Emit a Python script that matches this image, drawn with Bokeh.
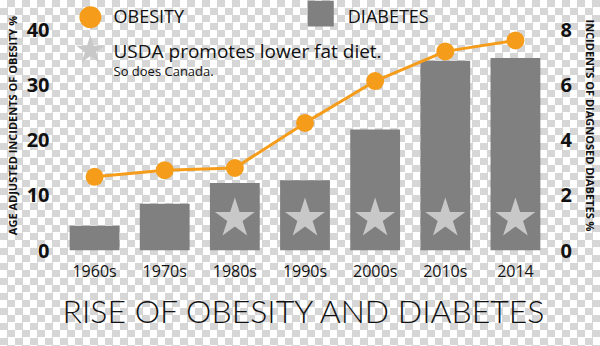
import math
from bokeh.plotting import figure
from bokeh.models import Range1d, LinearAxis, Label, Title, FixedTicker, FactorRange
from bokeh.embed import file_html
from bokeh.resources import INLINE

# ---- data ----
periods = ["1960s", "1970s", "1980s", "1990s", "2000s", "2010s", "2014"]
obesity = [13.4, 14.6, 15.0, 23.2, 30.8, 36.2, 38.2]      # % (left axis)
diabetes = [0.9, 1.7, 2.45, 2.55, 4.4, 6.9, 7.0]          # % (right axis)
usda_low_fat = [False, False, True, True, True, True, True]
obesity_ticks = [0, 10, 20, 30, 40]
diabetes_ticks = [0, 2, 4, 6, 8]
left_title = "AGE ADJUSTED INCIDENTS OF OBESITY %"
right_title = "INCIDENTS OF DIAGNOSED DIABETES %"

ORANGE = "#F59D1B"
BAR = "#808080"
STAR = "#C8C8C8"
FONT = "Open Sans"
INK = "#111111"

p = figure(width=600, height=346, title=None,
           x_range=FactorRange(*periods, range_padding=0),
           y_range=Range1d(0, 45.45),
           output_backend="svg", toolbar_location=None,
           min_border_left=59, min_border_right=49,
           min_border_top=0, min_border_bottom=96)
p.extra_y_ranges = {"diab": Range1d(0, 9.09)}

p.background_fill_alpha = 0
p.border_fill_alpha = 0
p.outline_line_color = None
p.grid.visible = False
p.styles = {
    "background-image": "repeating-conic-gradient(#d6d6d6 0% 25%, #ffffff 0% 50%)",
    "background-size": "15px 15px",
}

# bars (diabetes)
p.vbar(x=periods, top=diabetes, width=0.71, y_range_name="diab",
       fill_color=BAR, line_color=None)

# USDA stars inside bars
star_x = [c for c, f in zip(periods, usda_low_fat) if f]
p.scatter(x=star_x, y=[1.16] * len(star_x), marker="star", size=42,
          fill_color=STAR, line_color=None, y_range_name="diab")

# obesity line
p.line(x=periods, y=obesity, line_color=ORANGE, line_width=3)
p.scatter(x=periods, y=obesity, marker="circle", size=18,
          fill_color=ORANGE, line_color=None)

# ---- legend (manual) ----
p.scatter(x=[0.44], y=[42.4], marker="circle", size=22, fill_color=ORANGE, line_color=None)
p.scatter(x=[3.725], y=[43.1], marker="square", size=26, fill_color=BAR, line_color=None)
p.scatter(x=[0.44], y=[36.4], marker="star", size=30, fill_color=STAR, line_color=None)
for x, y, txt, fs in [(0.77, 42.7, "OBESITY", "18px"),
                      (4.11, 42.7, "DIABETES", "18px"),
                      (0.77, 36.3, "USDA promotes lower fat diet.", "19px"),
                      (0.77, 32.6, "So does Canada.", "13px")]:
    p.add_layout(Label(x=x, y=y, text=txt, text_baseline="middle", text_align="left",
                       text_font=FONT, text_font_size=fs, text_color=INK))

# ---- axes ----
def style_axis(ax, title):
    ax.axis_line_color = None
    ax.major_tick_line_color = None
    ax.minor_tick_line_color = None
    ax.major_tick_out = 0
    ax.major_tick_in = 0
    ax.major_label_text_font = FONT
    ax.major_label_text_color = INK
    if title:
        ax.axis_label = title
        ax.axis_label_text_font = FONT
        ax.axis_label_text_font_style = "bold"
        ax.axis_label_text_font_size = "11px"
        ax.axis_label_text_color = INK

yl = p.yaxis[0]
yl.ticker = FixedTicker(ticks=obesity_ticks)
style_axis(yl, left_title)
yl.major_label_text_font_style = "bold"
yl.major_label_text_font_size = "20px"
yl.major_label_standoff = 10
yl.axis_label_standoff = 4

yr = LinearAxis(y_range_name="diab", ticker=FixedTicker(ticks=diabetes_ticks))
style_axis(yr, right_title)
yr.major_label_text_font_style = "bold"
yr.major_label_text_font_size = "20px"
yr.major_label_standoff = 10
yr.axis_label_standoff = 8
p.add_layout(yr, "right")

xa = p.xaxis[0]
style_axis(xa, None)
xa.major_label_text_font_size = "16px"
xa.major_label_standoff = 9

title = Title(text="RISE OF OBESITY AND DIABETES", align="center",
              text_font="Lato Light", text_font_size="32px",
              text_font_style="normal", text_color=INK, standoff=8)
p.add_layout(title, "below")

open("out.html", "w").write(file_html(p, INLINE))
